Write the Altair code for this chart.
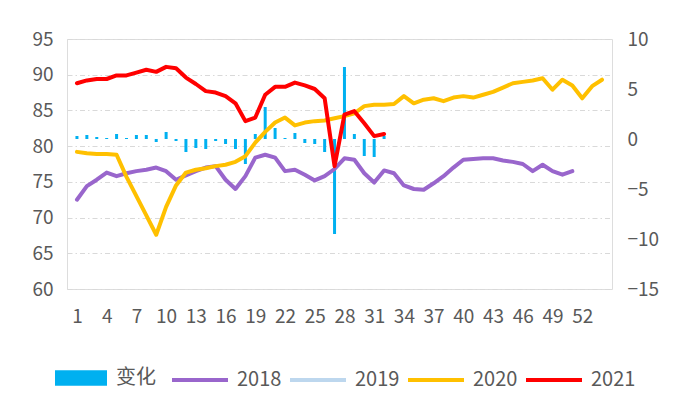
import altair as alt
import pandas as pd

# ---- data ----
x_tick_labels = list(range(1, 53, 3))          # 1, 4, 7, ... 52
left_ticks = [60, 65, 70, 75, 80, 85, 90, 95]
right_ticks = [-15, -10, -5, 0, 5, 10]
series_names = ["2018", "2019", "2020", "2021"]

y2018 = [72.5, 74.4, 75.3, 76.3, 75.8, 76.2, 76.5, 76.7, 77.0, 76.5,
         75.3, 75.9, 76.5, 77.0, 77.2, 75.3, 74.0, 75.8, 78.4, 78.8,
         78.4, 76.5, 76.7, 76.0, 75.2, 75.8, 76.8, 78.3, 78.1, 76.2,
         74.9, 76.6, 76.2, 74.5, 74.0, 73.9, 74.8, 75.8, 77.0, 78.1,
         78.2, 78.3, 78.3, 78.0, 77.8, 77.5, 76.5, 77.4, 76.5, 76.0,
         76.5]
y2019 = []
y2020 = [79.2, 79.0, 78.9, 78.9, 78.8, 75.7, 73.0, 70.3, 67.6, 71.5,
         74.5, 76.3, 76.7, 76.9, 77.2, 77.4, 77.8, 78.6, 80.5, 82.0,
         83.3, 84.0, 82.9, 83.3, 83.5, 83.6, 83.9, 84.2, 84.6, 85.6,
         85.8, 85.8, 85.9, 87.0, 86.0, 86.5, 86.7, 86.3, 86.8, 87.0,
         86.8, 87.2, 87.6, 88.2, 88.8, 89.0, 89.2, 89.5, 87.9, 89.3,
         88.5, 86.7, 88.4, 89.3]
y2021 = [88.8, 89.2, 89.4, 89.4, 89.9, 89.9, 90.3, 90.7, 90.4, 91.1,
         90.9, 89.6, 88.7, 87.7, 87.5, 87.0, 86.0, 83.5, 84.0, 87.2,
         88.3, 88.3, 88.9, 88.5, 88.0, 86.7, 77.2, 84.4, 84.9, 83.2,
         81.4, 81.7]
change = [0.3, 0.4, 0.2, 0.1, 0.5, 0.1, 0.4, 0.4, -0.3, 0.7,
          -0.2, -1.3, -0.9, -1.0, -0.2, -0.5, -1.0, -2.5, 0.5, 3.2,
          1.1, 0.1, 0.6, -0.4, -0.5, -1.3, -9.5, 7.2, 0.5, -1.7,
          -1.8, 0.3]

series_values = {"2018": y2018, "2019": y2019, "2020": y2020, "2021": y2021}
series_colors = ["#9966CC", "#BDD7EE", "#FFC000", "#FF0000"]
series_widths = [4, 4, 4, 6]
bar_name = "变化"
bar_color = "#00B0F0"

rows = []
for name in series_names:
    for i, v in enumerate(series_values[name]):
        rows.append({"week": i + 1, "year": name, "value": v})
lines_df = pd.DataFrame(rows, columns=["week", "year", "value"])
bars_df = pd.DataFrame({"week": list(range(1, len(change) + 1)),
                        "change": change,
                        "s": [bar_name] * len(change)})

FONT = "Noto Sans CJK SC"
TXT = "#595959"

x_enc = alt.X("week:Q",
              scale=alt.Scale(domain=[0.5, 54.5], nice=False, zero=False),
              axis=alt.Axis(values=x_tick_labels, title=None, grid=False, ticks=False,
                            domain=False, labelPadding=18, labelFontSize=19,
                            labelColor=TXT, labelFont=FONT, labelFlush=False,
                            labelOverlap=False))

bars = alt.Chart(bars_df).mark_bar(size=3).encode(
    x=x_enc,
    y=alt.Y("change:Q",
            scale=alt.Scale(domain=[-15, 10], nice=False, zero=False),
            axis=alt.Axis(orient="right", values=right_ticks, title=None, grid=False,
                          ticks=False, domain=False, labelPadding=15, labelFontSize=19,
                          labelColor=TXT, labelFont=FONT, labelAlign="left")),
    fill=alt.Fill("s:N", scale=alt.Scale(domain=[bar_name], range=[bar_color]),
                  legend=alt.Legend(title=None, orient="none", legendX=-12, legendY=313,
                                    direction="horizontal", padding=0,
                                    symbolType="M-1,-0.3H1V0.3H-1Z", symbolSize=2704,
                                    symbolStrokeWidth=0, labelFontSize=20,
                                    labelColor=TXT, labelFont=FONT, labelOffset=9)),
)

lines = alt.Chart(lines_df).mark_line(strokeCap="round", strokeJoin="round").encode(
    x=x_enc,
    y=alt.Y("value:Q",
            scale=alt.Scale(domain=[60, 95], nice=False, zero=False),
            axis=alt.Axis(orient="left", values=left_ticks, title=None, grid=True,
                          gridColor="#D9D9D9", gridDash=[5, 3, 1.5, 3], gridWidth=1,
                          ticks=False, domain=False, labelPadding=14, labelFontSize=19,
                          labelColor=TXT, labelFont=FONT)),
    stroke=alt.Stroke("year:N",
                      scale=alt.Scale(domain=series_names, range=series_colors),
                      legend=alt.Legend(title=None, orient="none", legendX=103, legendY=311,
                                        direction="horizontal", columns=4, padding=0,
                                        symbolType="stroke", symbolSize=3136,
                                        symbolStrokeWidth=4, labelFontSize=20,
                                        labelColor=TXT, labelFont=FONT, labelOffset=7,
                                        columnPadding=0)),
    strokeWidth=alt.StrokeWidth("year:N",
                                scale=alt.Scale(domain=series_names, range=series_widths),
                                legend=None),
    order=alt.Order("week:Q"),
)

chart = alt.layer(bars, lines).resolve_scale(y="independent").properties(
    width=545, height=250,
    autosize=alt.AutoSizeParams(type="none"),
    padding={"left": 59, "top": 31, "right": 60, "bottom": 115},
).configure_view(stroke=None).configure(background="white")

chart.save("out.html", embed_options={"renderer": "svg", "actions": False})
